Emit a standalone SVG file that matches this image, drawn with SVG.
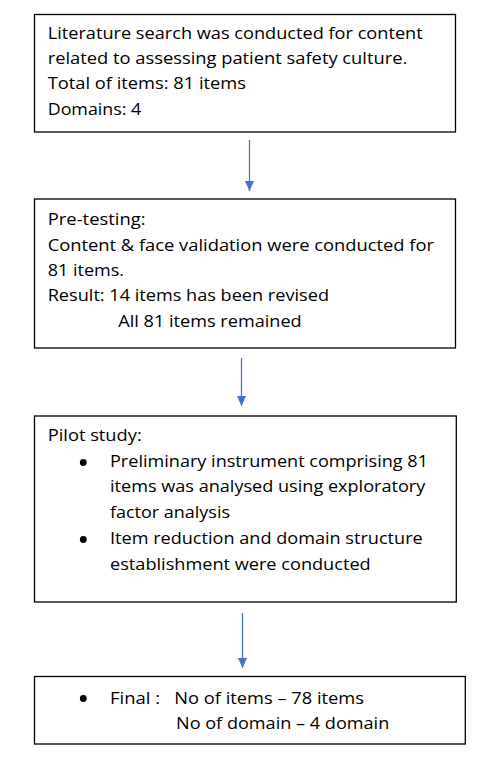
<svg xmlns="http://www.w3.org/2000/svg" width="495" height="771" viewBox="0 0 495 771">
<defs>
<style>
.box{fill:#ffffff;stroke:#000000;stroke-width:1.3}
.t{font-family:"Open Sans","Liberation Sans",sans-serif;font-size:17px;fill:#000000}
.conn{stroke:#4472C4;stroke-width:1.3;fill:none}
.bul{fill:#000000}
</style>
<marker id="ah" viewBox="0 0 10 10" refX="10" refY="5" markerWidth="10" markerHeight="9" markerUnits="userSpaceOnUse" orient="auto" preserveAspectRatio="none">
<path d="M0,0 L10,5 L0,10 z" fill="#4472C4"/>
</marker>
</defs>
<rect width="495" height="771" fill="#ffffff"/>
<g id="connectors">
<line class="conn" x1="249.5" y1="140" x2="249.5" y2="191" marker-end="url(#ah)"/>
<line class="conn" x1="241.5" y1="358" x2="241.5" y2="406" marker-end="url(#ah)"/>
<line class="conn" x1="242.5" y1="613" x2="242.5" y2="668" marker-end="url(#ah)"/>
</g>
<g id="node1">
<rect class="box" x="34.5" y="14.5" width="421" height="117.5"/>
<text class="t" x="47.7" y="39" textLength="375" lengthAdjust="spacingAndGlyphs">Literature search was conducted for content</text>
<text class="t" x="47.7" y="64.3" textLength="359.6" lengthAdjust="spacingAndGlyphs">related to assessing patient safety culture.</text>
<text class="t" x="47.7" y="89.3" textLength="198.3" lengthAdjust="spacingAndGlyphs">Total of items: 81 items</text>
<text class="t" x="47.7" y="115" textLength="93.6" lengthAdjust="spacingAndGlyphs">Domains: 4</text>
</g>
<g id="node2">
<rect class="box" x="34.5" y="199" width="421" height="149"/>
<text class="t" x="47.7" y="225" textLength="98" lengthAdjust="spacingAndGlyphs">Pre-testing:</text>
<text class="t" x="47.7" y="251" textLength="386.3" lengthAdjust="spacingAndGlyphs">Content &amp; face validation were conducted for</text>
<text class="t" x="47.7" y="275.8" textLength="76.3" lengthAdjust="spacingAndGlyphs">81 items.</text>
<text class="t" x="47.7" y="301.3" textLength="281.3" lengthAdjust="spacingAndGlyphs">Result: 14 items has been revised</text>
<text class="t" x="118.3" y="326.7" textLength="183.4" lengthAdjust="spacingAndGlyphs">All 81 items remained</text>
</g>
<g id="node3">
<rect class="box" x="34.5" y="416" width="421.8" height="186"/>
<text class="t" x="47.7" y="440.7" textLength="94" lengthAdjust="spacingAndGlyphs">Pilot study:</text>
<circle class="bul" cx="83.3" cy="462.5" r="3.4"/>
<text class="t" x="110" y="466.7" textLength="318" lengthAdjust="spacingAndGlyphs">Preliminary instrument comprising 81</text>
<text class="t" x="110" y="492.2" textLength="315.3" lengthAdjust="spacingAndGlyphs">items was analysed using exploratory</text>
<text class="t" x="110" y="517.7" textLength="120" lengthAdjust="spacingAndGlyphs">factor analysis</text>
<circle class="bul" cx="83.3" cy="539.5" r="3.4"/>
<text class="t" x="110" y="544" textLength="312.7" lengthAdjust="spacingAndGlyphs">Item reduction and domain structure</text>
<text class="t" x="110" y="569.7" textLength="260.7" lengthAdjust="spacingAndGlyphs">establishment were conducted</text>
</g>
<g id="node4">
<rect class="box" x="34.5" y="676.5" width="430.8" height="67.5"/>
<circle class="bul" cx="83.3" cy="698.5" r="3.4"/>
<text class="t" x="110" y="704" textLength="50" lengthAdjust="spacingAndGlyphs">Final :</text>
<text class="t" x="174.3" y="704" textLength="189.7" lengthAdjust="spacingAndGlyphs">No of items – 78 items</text>
<text class="t" x="176" y="729" textLength="213.3" lengthAdjust="spacingAndGlyphs">No of domain – 4 domain</text>
</g>
</svg>
